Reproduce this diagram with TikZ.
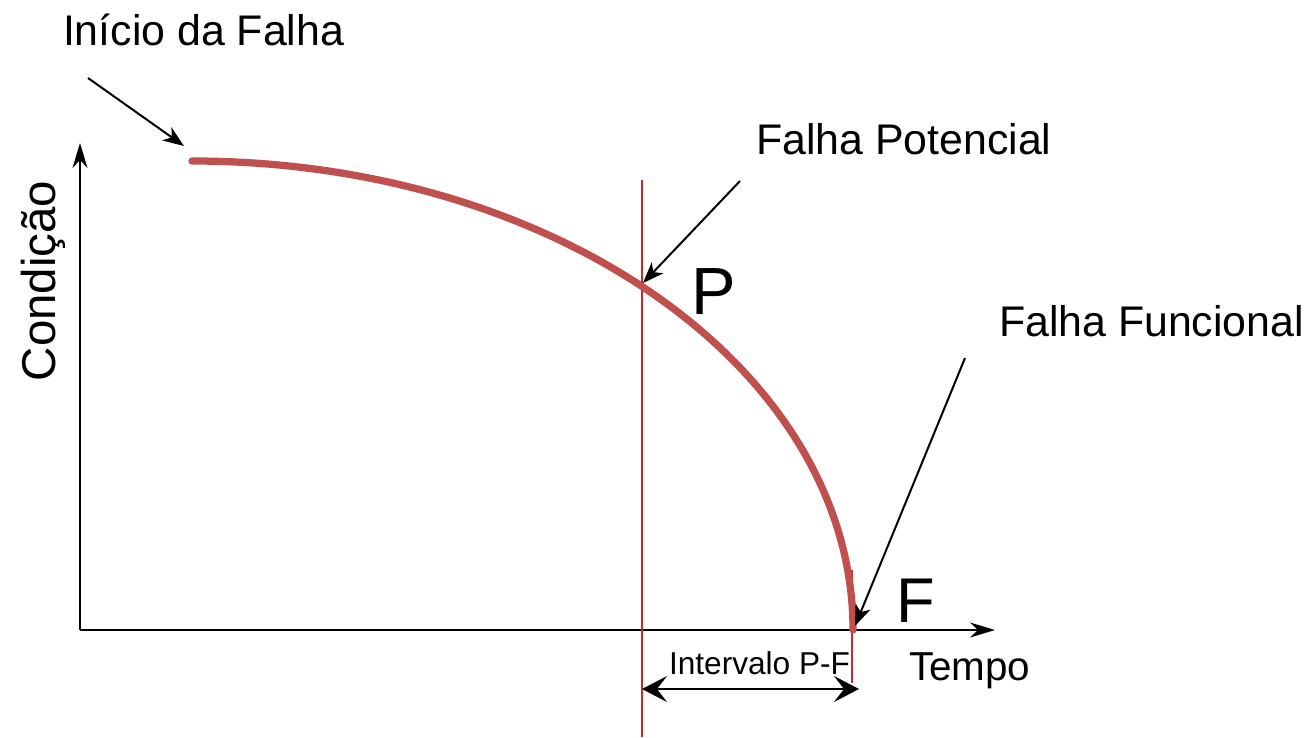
\documentclass[tikz,border=0pt]{standalone}
\usepackage{fontspec}
\setmainfont{Liberation Sans}
\usetikzlibrary{arrows.meta}
\definecolor{cCurve}{HTML}{C0504D}
\definecolor{cMark}{HTML}{C8282A}
\tikzset{
  axis/.style   ={-{Stealth[length=0.5cm,width=0.3cm,inset=0.16cm]},line width=0.04cm},
  callout/.style={-{Stealth[length=0.42cm,width=0.32cm,inset=0.12cm]},line width=0.04cm},
  span/.style   ={{Stealth[length=0.5cm,width=0.52cm,inset=0.2cm]}-{Stealth[length=0.5cm,width=0.52cm,inset=0.2cm]},line width=0.04cm},
  marker/.style ={cMark,line width=0.055cm},
  curve/.style  ={cCurve,line width=0.145cm,line cap=round},
  lbl/.style    ={inner sep=0pt,outer sep=0pt,anchor=base west},
}

\begin{document}
\begin{tikzpicture}[x=0.02cm,y=-0.02cm]
  \useasboundingbox (0,0) rectangle (1311,737);
  % axes
  \coordinate (origin) at (80,630);
  \coordinate (xend) at (995,630);
  \coordinate (yend) at (80,143);
  \draw[axis] (origin) -- (xend);
  \draw[axis] (origin) -- (yend);
  % P and F markers
  \coordinate (ptop) at (642,180);
  \coordinate (pbot) at (642,737);
  \coordinate (ftop) at (852,570);
  \coordinate (fbot) at (852,683);
  \draw[marker] (ptop) -- (pbot);
  \draw[marker] (ftop) -- (fbot);
  % degradation curve
  \coordinate (start) at (192,161);
  \draw[curve] (start) arc[start angle=270,end angle=360,x radius=661,y radius=469];
  % labels
  \node[lbl,font=\fontsize{24.4}{28}\selectfont] (inicio) at (63,45) {Início da Falha};
  \node[lbl,font=\fontsize{24.4}{28}\selectfont] (potencial) at (756,154) {Falha Potencial};
  \node[lbl,font=\fontsize{24.4}{28}\selectfont] (funcional) at (999,336) {Falha Funcional};
  \node[lbl,font=\fontsize{27}{32}\selectfont,rotate=90] (condicao) at (55,381) {Condição};
  \node[lbl,font=\fontsize{23}{26}\selectfont] (tempo) at (909,680) {Tempo};
  \node[lbl,font=\fontsize{18}{21}\selectfont] (intervalo) at (669,674) {Intervalo P-F};
  \node[lbl,font=\fontsize{38}{44}\selectfont] (P) at (691,314) {P};
  \node[lbl,font=\fontsize{36}{42}\selectfont] (F) at (896,622) {F};
  % callouts
  \coordinate (inicio from) at (88,78);
  \coordinate (inicio to) at (184,146);
  \coordinate (pot from) at (740,181);
  \coordinate (pot to) at (643,283);
  \coordinate (fun from) at (965,358);
  \coordinate (fun to) at (855,626);
  \draw[callout] (inicio from) -- (inicio to);
  \draw[callout] (pot from) -- (pot to);
  \draw[callout] (fun from) -- (fun to);
  % P-F interval
  \coordinate (span l) at (642,689);
  \coordinate (span r) at (859,689);
  \draw[span] (span l) -- (span r);
\end{tikzpicture}
\end{document}
